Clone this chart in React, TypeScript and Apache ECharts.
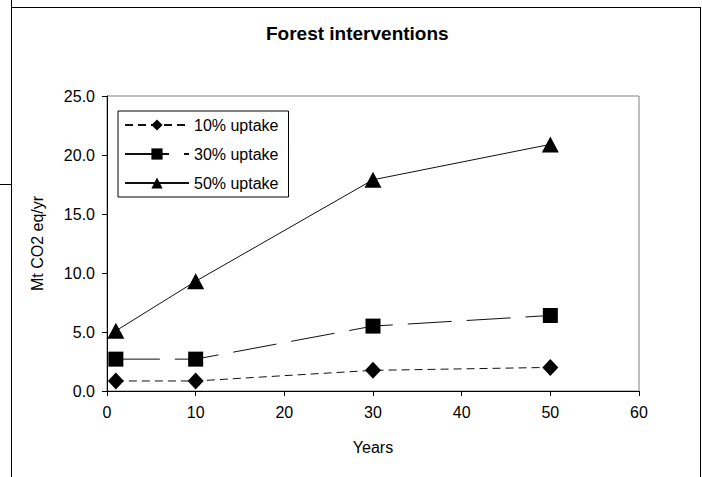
import React, { useEffect, useRef } from "react";
import * as echarts from "echarts";

const years = [1, 10, 30, 50];
const uptake10 = [0.85, 0.85, 1.75, 2.0];
const uptake30 = [2.7, 2.7, 5.5, 6.4];
const uptake50 = [5.1, 9.3, 17.9, 20.9];
const seriesNames = ["10% uptake", "30% uptake", "50% uptake"];
const xTicks = { min: 0, max: 60, interval: 10 };
const yTicks = { min: 0, max: 25, interval: 5 };

const FONT = "'Liberation Sans', Arial, sans-serif";

export default function App() {
  const ref = useRef<HTMLDivElement>(null);
  useEffect(() => {
    if (!ref.current) return;
    const chart = echarts.init(ref.current, null, { renderer: "svg" });
    const pairs = (vals: number[]) => years.map((x, i) => [x, vals[i]]);
    const mk = (name: string, vals: number[], symbol: string, size: any, dash: any) => ({
      name,
      type: "line",
      data: pairs(vals),
      symbol,
      symbolSize: size,
      showAllSymbol: true,
      itemStyle: { color: "#000" },
      lineStyle: { color: "#111", width: 1, type: dash },
      emphasis: { disabled: true },
    });
    chart.setOption({
      animation: false,
      backgroundColor: "#fff",
      textStyle: { fontFamily: FONT },
      title: {
        text: "Forest interventions",
        left: 266,
        top: 24,
        padding: 0,
        textStyle: { fontFamily: FONT, fontSize: 19, fontWeight: "bold", color: "#000" },
      },
      legend: {
        data: seriesNames,
        orient: "vertical",
        left: 118,
        top: 111,
        padding: [6, 10, 6, 6],
        itemWidth: 64,
        itemHeight: 14,
        itemGap: 13,
        borderColor: "#000",
        borderWidth: 1,
        backgroundColor: "#fff",
        textStyle: { fontFamily: FONT, fontSize: 16, color: "#000" },
      },
      grid: {
        left: 107,
        top: 96,
        right: 63,
        bottom: 86,
        show: true,
        borderColor: "#808080",
        borderWidth: 1,
        backgroundColor: "transparent",
      },
      xAxis: {
        type: "value",
        min: xTicks.min,
        max: xTicks.max,
        interval: xTicks.interval,
        name: "Years",
        nameLocation: "middle",
        nameGap: 48,
        nameTextStyle: { fontFamily: FONT, fontSize: 16, color: "#000" },
        axisLine: { lineStyle: { color: "#000", width: 1 } },
        axisTick: { inside: false, length: 5, lineStyle: { color: "#000" } },
        axisLabel: { fontFamily: FONT, fontSize: 16, color: "#000", margin: 13 },
        splitLine: { show: false },
      },
      yAxis: {
        type: "value",
        min: yTicks.min,
        max: yTicks.max,
        interval: yTicks.interval,
        name: "Mt CO2 eq/yr",
        nameLocation: "middle",
        nameGap: 62,
        nameTextStyle: { fontFamily: FONT, fontSize: 16, color: "#000" },
        axisLine: { show: true, lineStyle: { color: "#000", width: 1 } },
        axisTick: { show: true, inside: false, length: 5, lineStyle: { color: "#000" } },
        axisLabel: {
          fontFamily: FONT,
          fontSize: 16,
          color: "#000",
          margin: 12,
          formatter: (v: number) => v.toFixed(1),
        },
        splitLine: { show: false },
      },
      graphic: [
        { type: "line", shape: { x1: 11.5, y1: 0, x2: 11.5, y2: 477 }, style: { stroke: "#000", lineWidth: 1 } },
        { type: "line", shape: { x1: 11, y1: 7.5, x2: 700.5, y2: 7.5 }, style: { stroke: "#000", lineWidth: 1 } },
        { type: "line", shape: { x1: 700.5, y1: 7, x2: 700.5, y2: 477 }, style: { stroke: "#000", lineWidth: 1 } },
        { type: "line", shape: { x1: 0, y1: 184.5, x2: 11, y2: 184.5 }, style: { stroke: "#000", lineWidth: 1 } },
      ],
      series: [
        mk(seriesNames[0], uptake10, "diamond", [16, 17], [8, 5]),
        mk(seriesNames[1], uptake30, "rect", 15, [44, 15]),
        mk(seriesNames[2], uptake50, "triangle", [17, 16], "solid"),
      ],
    });
    return () => chart.dispose();
  }, []);
  return (
    <div
      ref={ref}
      style={{ position: "fixed", left: 0, top: 0, width: 702, height: 477, background: "#fff" }}
    />
  );
}
